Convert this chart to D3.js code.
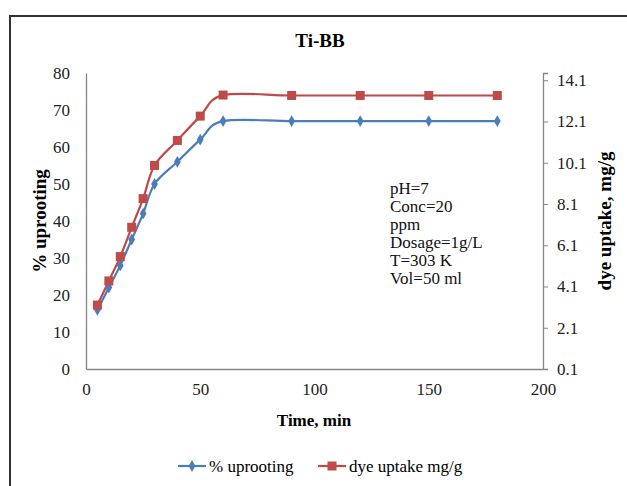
<!DOCTYPE html>
<html><head><meta charset="utf-8">
<script src="https://cdn.jsdelivr.net/npm/d3@7"></script>
<style>body{margin:0;background:#fff}svg{display:block}text{font-family:"Liberation Serif","Times New Roman",serif}</style>
</head><body><svg id="c" width="627" height="486"></svg>
<script>
const times = [5, 10, 15, 20, 25, 30, 40, 50, 60, 90, 120, 150, 180];
const uprooting = [16, 22, 28, 35, 42, 50, 56, 62, 67, 67, 67, 67, 67];
const dyeUptake = [3.2, 4.37, 5.55, 6.97, 8.36, 9.97, 11.18, 12.36, 13.38, 13.36, 13.36, 13.36, 13.36];
const xTicks = [0, 50, 100, 150, 200];
const leftTicks = [0, 10, 20, 30, 40, 50, 60, 70, 80];
const rightTicks = [0.1, 2.1, 4.1, 6.1, 8.1, 10.1, 12.1, 14.1];
const notes = ["pH=7", "Conc=20", "ppm", "Dosage=1g/L", "T=303 K", "Vol=50 ml"];
const seriesNames = ["% uprooting", "dye uptake mg/g"];

const svg = d3.select("#c");
const L = 86, R = 543, T = 73, B = 369;
const x = d3.scaleLinear().domain([0, 200]).range([L, R]);
const yL = d3.scaleLinear().domain([0, 80]).range([B, T]);
const yR = d3.scaleLinear().domain([0.1, 14.45]).range([B, T]);
const axisColor = "#868686";

// outer border
svg.append("rect").attr("x", 10).attr("y", 16).attr("width", 700).attr("height", 600)
  .attr("fill", "none").attr("stroke", "#333").attr("stroke-width", 2);

// title
svg.append("text").attr("x", 320).attr("y", 47).attr("text-anchor", "middle")
  .attr("font-weight", "bold").attr("font-size", 19).text("Ti-BB");

// axes
const gx = svg.append("g").attr("transform", `translate(0,${B})`)
  .call(d3.axisBottom(x).tickValues(xTicks).tickSize(0).tickPadding(17));
const gl = svg.append("g").attr("transform", `translate(${L},0)`)
  .call(d3.axisLeft(yL).tickValues(leftTicks).tickSize(0).tickPadding(16));
const gr = svg.append("g").attr("transform", `translate(${R},0)`)
  .call(d3.axisRight(yR).tickValues(rightTicks).tickSize(5).tickPadding(9).tickFormat(d3.format(".1f")));
[gx, gl, gr].forEach(g => {
  g.select(".domain").attr("stroke", axisColor).attr("stroke-width", 1.3);
  g.selectAll(".tick line").attr("stroke", axisColor);
  g.selectAll(".tick text").attr("font-size", 17).attr("fill", "#222")
    .attr("font-family", '"Liberation Serif", serif');
});
gx.selectAll(".tick text").attr("dy", "0.55em");

// axis titles
svg.append("text").attr("x", 314).attr("y", 426).attr("text-anchor", "middle")
  .attr("font-weight", "bold").attr("font-size", 17).text("Time, min");
svg.append("text").attr("transform", "translate(46,221) rotate(-90)").attr("text-anchor", "middle")
  .attr("font-weight", "bold").attr("font-size", 19).text("% uprooting");
svg.append("text").attr("transform", "translate(611,221) rotate(-90)").attr("text-anchor", "middle")
  .attr("font-weight", "bold").attr("font-size", 19).text("dye uptake, mg/g");

// annotation
svg.append("g").selectAll("text").data(notes).join("text")
  .attr("x", 390).attr("y", (d, i) => 194 + i * 18)
  .attr("font-size", 17).attr("fill", "#111").text(d => d);

// series
const blue = "#4a7ebb", red = "#be4b48";
const curve = d3.curveCardinal.tension(0);
const lineB = d3.line().x((d, i) => x(times[i])).y(d => yL(d)).curve(curve);
const lineR = d3.line().x((d, i) => x(times[i])).y(d => yR(d)).curve(curve);
svg.append("path").attr("d", lineR(dyeUptake)).attr("fill", "none").attr("stroke", red).attr("stroke-width", 2.2);
svg.append("path").attr("d", lineB(uprooting)).attr("fill", "none").attr("stroke", blue).attr("stroke-width", 2.2);

const diamond = d3.symbol().type(d3.symbolDiamond).size(40);
svg.append("g").selectAll("path").data(uprooting).join("path")
  .attr("d", diamond).attr("fill", blue)
  .attr("transform", (d, i) => `translate(${x(times[i])},${yL(d)})`);
svg.append("g").selectAll("rect").data(dyeUptake).join("rect")
  .attr("x", (d, i) => x(times[i]) - 4.5).attr("y", d => yR(d) - 4.5)
  .attr("width", 9).attr("height", 9).attr("fill", red);

// legend
const lg = svg.append("g");
lg.append("line").attr("x1", 178).attr("x2", 206).attr("y1", 466).attr("y2", 466).attr("stroke", blue).attr("stroke-width", 2.2);
lg.append("path").attr("d", diamond).attr("fill", blue).attr("transform", "translate(192,466)");
lg.append("text").attr("x", 209).attr("y", 472).attr("font-size", 17).text(seriesNames[0]);
lg.append("line").attr("x1", 318).attr("x2", 346).attr("y1", 466).attr("y2", 466).attr("stroke", red).attr("stroke-width", 2.2);
lg.append("rect").attr("x", 327.5).attr("y", 461.5).attr("width", 9).attr("height", 9).attr("fill", red);
lg.append("text").attr("x", 349).attr("y", 472).attr("font-size", 17).text(seriesNames[1]);
</script></body></html>
